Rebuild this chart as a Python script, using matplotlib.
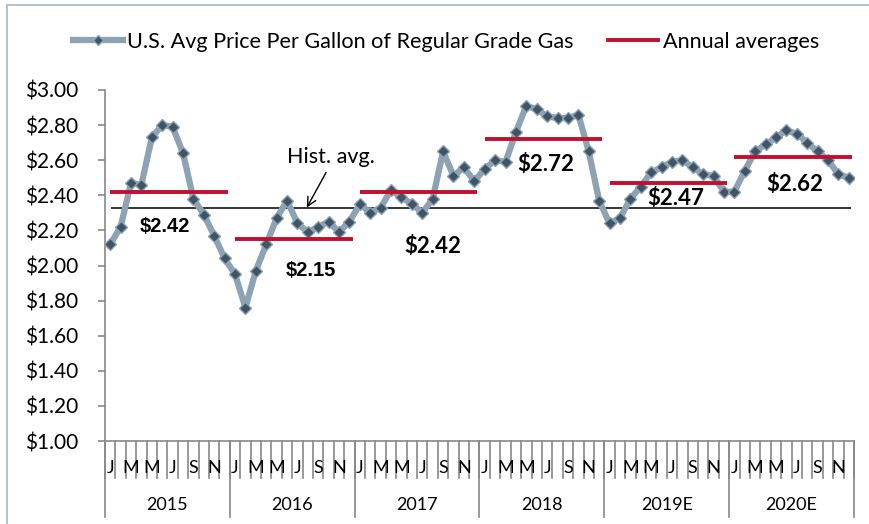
import matplotlib
matplotlib.use('Agg')
import matplotlib.pyplot as plt
from matplotlib.lines import Line2D
from matplotlib.patches import Rectangle
from matplotlib.transforms import blended_transform_factory
import numpy as np

# monthly prices, Jan 2015 .. Dec 2020
prices_2015 = [2.12, 2.22, 2.47, 2.46, 2.73, 2.80, 2.79, 2.64, 2.38, 2.29, 2.17, 2.04]
prices_2016 = [1.95, 1.76, 1.97, 2.12, 2.27, 2.37, 2.24, 2.19, 2.22, 2.25, 2.19, 2.25]
prices_2017 = [2.35, 2.30, 2.33, 2.43, 2.39, 2.35, 2.30, 2.38, 2.65, 2.51, 2.56, 2.48]
prices_2018 = [2.55, 2.60, 2.59, 2.76, 2.91, 2.89, 2.85, 2.84, 2.84, 2.86, 2.65, 2.37]
prices_2019 = [2.24, 2.27, 2.38, 2.45, 2.53, 2.56, 2.59, 2.60, 2.56, 2.52, 2.51, 2.42]
prices_2020 = [2.42, 2.54, 2.65, 2.69, 2.73, 2.77, 2.75, 2.70, 2.65, 2.60, 2.52, 2.50]
years = ['2015', '2016', '2017', '2018', '2019E', '2020E']
annual_avg = [2.42, 2.15, 2.42, 2.72, 2.47, 2.62]
hist_avg = 2.33
month_letters = ['J', '', 'M', '', 'M', '', 'J', '', 'S', '', 'N', '']
y_ticks = [1.0, 1.2, 1.4, 1.6, 1.8, 2.0, 2.2, 2.4, 2.6, 2.8, 3.0]

prices = prices_2015 + prices_2016 + prices_2017 + prices_2018 + prices_2019 + prices_2020

LINE_C = '#8DA2B3'
MARK_C = '#3F5566'
RED = '#C0102C'
GRAY = '#888888'
FONT = 'Lato'

fig = plt.figure(figsize=(8.69, 5.24), dpi=100)
# chart frame (right and bottom edges fall outside the image)
fig.patches.append(Rectangle((7 / 869, -0.05), 1.0, 1 - 5 / 524 + 0.05,
                             transform=fig.transFigure, fill=False,
                             edgecolor='#A9B8C6', linewidth=1.2))
ax = fig.add_axes([105 / 869, 1 - 441 / 524, 749 / 869, 351 / 524])

x = np.arange(len(prices)) + 0.5
ax.plot(x, prices, color=LINE_C, linewidth=4.5, marker='D', markersize=6.5,
        markerfacecolor=MARK_C, markeredgecolor=LINE_C, markeredgewidth=1, zorder=3)

for i, avg in enumerate(annual_avg):
    ax.hlines(avg, i * 12 + 0.5, i * 12 + 11.8, color=RED, linewidth=2.8, zorder=4)
ax.hlines(hist_avg, 0.6, 71.7, color='black', linewidth=1.1, zorder=2)

ax.text(21.7, 2.618, 'Hist. avg.', ha='center', va='center', fontsize=15.5, family=FONT)
ax.annotate('', xy=(19.4, hist_avg), xytext=(21.25, 2.53),
            arrowprops=dict(arrowstyle='->', color='black', lw=1,
                            shrinkA=0, shrinkB=0, mutation_scale=16))

label_pos = [(5.77, 2.22, 'Liberation Sans', 14.5), (19.76, 1.974, 'Liberation Sans', 14.5),
             (31.5, 2.11, FONT, 16), (42.4, 2.573, FONT, 16),
             (54.9, 2.379, FONT, 16), (66.3, 2.459, FONT, 16)]
for avg, (lx, ly, fam, fs) in zip(annual_avg, label_pos):
    ax.text(lx, ly, '${:.2f}'.format(avg), ha='center', va='center',
            fontsize=fs, fontweight='bold', family=fam)

ax.set_xlim(0, 72)
ax.set_ylim(1.0, 3.0)
ax.set_yticks(y_ticks)
ax.set_yticklabels(['${:.2f}'.format(v) for v in y_ticks], family=FONT, fontsize=15)
ax.tick_params(axis='y', length=5, color=GRAY, width=1.2, pad=14)
ax.set_xticks([])
for s in ['top', 'right']:
    ax.spines[s].set_visible(False)
ax.spines['left'].set_color(GRAY)
ax.spines['bottom'].set_color(GRAY)
ax.spines['left'].set_linewidth(1.2)
ax.spines['bottom'].set_linewidth(1.2)

# category axis: month ticks, letters, year groups
tr = blended_transform_factory(ax.transData, ax.transAxes)
for m in range(73):
    ax.plot([m, m], [0, -37 / 351], color=GRAY, lw=1.2, transform=tr, clip_on=False)
    if m < 72 and month_letters[m % 12]:
        ax.text(m + 0.5, -27 / 351, month_letters[m % 12], transform=tr,
                ha='center', va='center', fontsize=13, family=FONT)
for yi in range(7):
    ax.plot([yi * 12, yi * 12], [0, -76 / 351], color=GRAY, lw=1.2,
            transform=tr, clip_on=False)
for yi, yr in enumerate(years):
    ax.text(yi * 12 + 6, -64 / 351, yr, transform=tr, ha='center', va='center',
            fontsize=13, family=FONT)

handles = [Line2D([], [], color=LINE_C, lw=4.5, marker='D', markersize=5,
                  markerfacecolor=MARK_C, markeredgecolor=LINE_C),
           Line2D([], [], color=RED, lw=2.8)]
fig.legend(handles, ['U.S. Avg Price Per Gallon of Regular Grade Gas', 'Annual averages'],
           loc='center', bbox_to_anchor=(446 / 869, 1 - 42 / 524), ncol=2, frameon=False,
           prop={'family': FONT, 'size': 15.6}, handlelength=2.3, handletextpad=0.2,
           columnspacing=1.6)

fig.savefig('out.png', dpi=100)
